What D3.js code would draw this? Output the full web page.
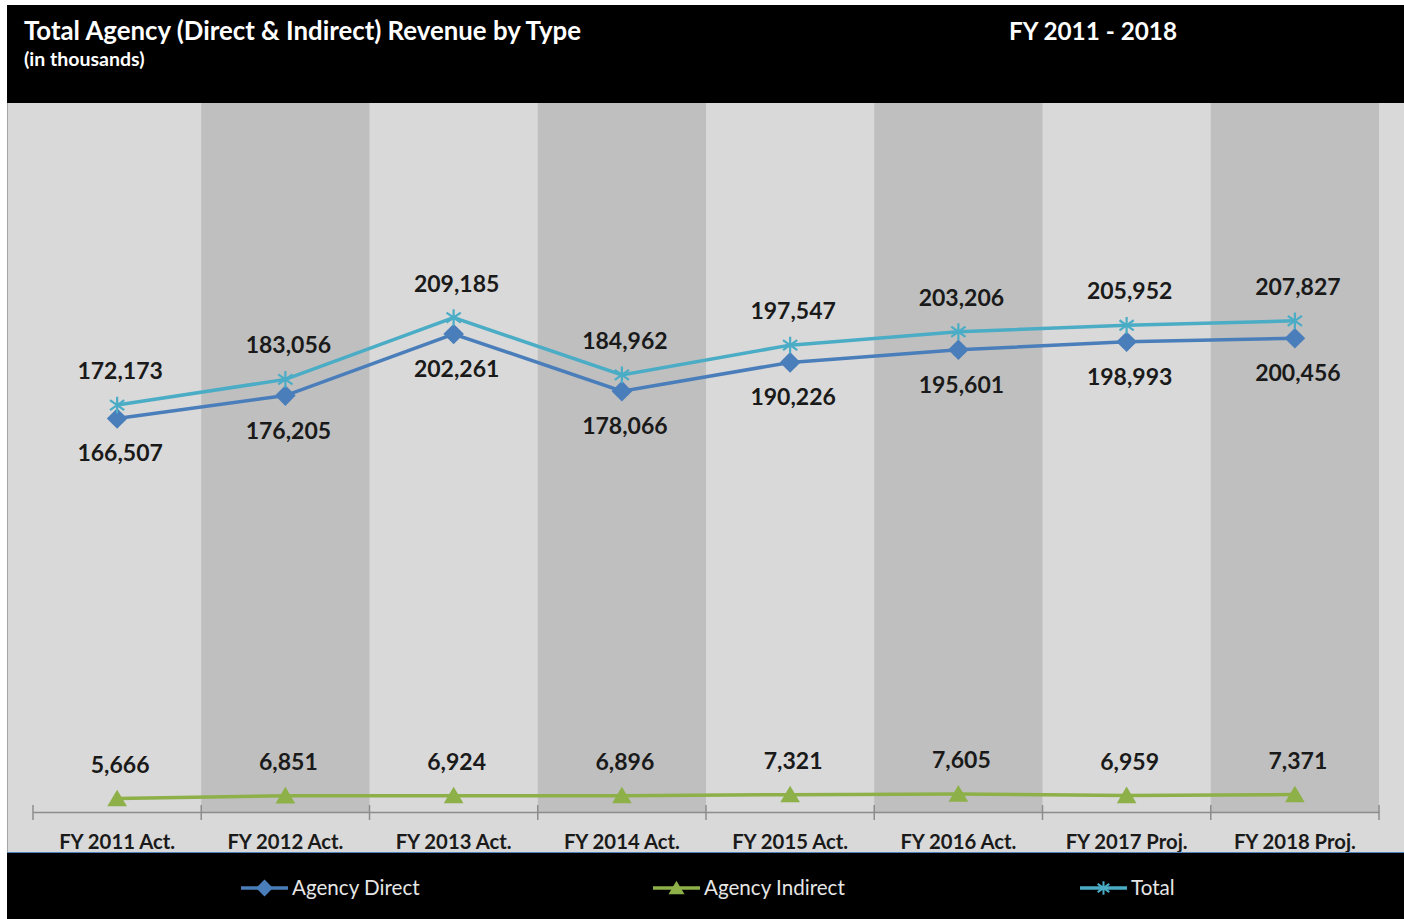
<!DOCTYPE html>
<html>
<head>
<meta charset="utf-8">
<script src="https://cdn.jsdelivr.net/npm/d3@7"></script>
<style>
  body { margin: 0; background: #ffffff; }
  svg { display: block; font-family: Lato, "Open Sans", sans-serif; }
</style>
</head>
<body>
<div id="chart"></div>
<script>
var categories = ["FY 2011 Act.", "FY 2012 Act.", "FY 2013 Act.", "FY 2014 Act.",
                  "FY 2015 Act.", "FY 2016 Act.", "FY 2017 Proj.", "FY 2018 Proj."];
var agencyDirect = [166507, 176205, 202261, 178066, 190226, 195601, 198993, 200456];
var agencyIndirect = [5666, 6851, 6924, 6896, 7321, 7605, 6959, 7371];
var total = [172173, 183056, 209185, 184962, 197547, 203206, 205952, 207827];
var seriesNames = ["Agency Direct", "Agency Indirect", "Total"];
var yDomain = [0, 300000];

var W = 1404, H = 919;
var plot = { left: 33, right: 1379, top: 103, bottom: 812 };

var svg = d3.select("#chart").append("svg")
    .attr("width", W).attr("height", H);

// custom marker shapes
var diamond = { draw: function(ctx, size) {
    var r = Math.sqrt(size) / 1.3;
    ctx.moveTo(0, -r); ctx.lineTo(r, 0); ctx.lineTo(0, r); ctx.lineTo(-r, 0); ctx.closePath();
}};
var triangle = { draw: function(ctx, size) {
    var r = Math.sqrt(size) / 1.5;
    ctx.moveTo(0, -r); ctx.lineTo(r * 1.1, r * 0.85); ctx.lineTo(-r * 1.1, r * 0.85); ctx.closePath();
}};
var asterisk = { draw: function(ctx, size) {
    var r = Math.sqrt(size) / 1.6;
    ctx.moveTo(0, -r); ctx.lineTo(0, r);
    ctx.moveTo(-r * 0.85, -r * 0.6); ctx.lineTo(r * 0.85, r * 0.6);
    ctx.moveTo(-r * 0.85, r * 0.6); ctx.lineTo(r * 0.85, -r * 0.6);
}};

var series = [
    { name: seriesNames[0], values: agencyDirect, color: "#4a7ebb", shape: diamond, fill: true, dy: 43 },
    { name: seriesNames[1], values: agencyIndirect, color: "#8db048", shape: triangle, fill: true, dy: -26 },
    { name: seriesNames[2], values: total, color: "#4bacc6", shape: asterisk, fill: false, dy: -26 }
];

var x = d3.scaleBand().domain(categories).range([plot.left, plot.right]);
var y = d3.scaleLinear().domain(yDomain).range([plot.bottom, plot.top]);

// header
svg.append("rect").attr("x", 7).attr("y", 5).attr("width", W - 7).attr("height", 98).attr("fill", "#000");
svg.append("text").attr("x", 24).attr("y", 40).attr("fill", "#fff")
    .attr("font-size", 25.8).attr("font-weight", "bold")
    .text("Total Agency (Direct & Indirect) Revenue by Type");
svg.append("text").attr("x", 24).attr("y", 66).attr("fill", "#fff")
    .attr("font-size", 19.5).attr("font-weight", "bold")
    .text("(in thousands)");
svg.append("text").attr("x", 1093).attr("y", 40).attr("fill", "#fff")
    .attr("font-size", 24.3).attr("font-weight", "bold").attr("text-anchor", "middle")
    .text("FY 2011 - 2018");

// plot background and alternating bands
svg.append("rect").attr("x", 7).attr("y", plot.top).attr("width", W - 7).attr("height", 852 - plot.top)
    .attr("fill", "#d9d9d9");
svg.append("line").attr("x1", 7.5).attr("x2", 7.5).attr("y1", plot.top).attr("y2", 852)
    .attr("stroke", "#a6a6a6");
svg.append("g").selectAll("rect")
    .data(categories.filter(function(d, i) { return i % 2 === 1; }))
    .enter().append("rect")
    .attr("x", function(d) { return x(d); })
    .attr("y", plot.top)
    .attr("width", x.bandwidth())
    .attr("height", plot.bottom - plot.top)
    .attr("fill", "#bfbfbf");

// x axis
var xAxis = svg.append("g").attr("transform", "translate(0," + plot.bottom + ")")
    .call(d3.axisBottom(x).tickSize(0).tickPadding(23));
xAxis.select(".domain").attr("stroke", "#8c8c8c").attr("stroke-width", 1.5);
xAxis.selectAll("text").attr("font-size", 20.3).attr("font-weight", "bold")
    .attr("fill", "#1a1a1a").attr("font-family", "Lato, sans-serif");
var bounds = categories.map(function(d) { return x(d); }).concat([plot.right]);
xAxis.selectAll(".bound").data(bounds).enter().append("line")
    .attr("x1", function(d) { return d; }).attr("x2", function(d) { return d; })
    .attr("y1", -7).attr("y2", 8)
    .attr("stroke", "#8c8c8c").attr("stroke-width", 1.5);

// lines, markers and labels
var line = d3.line()
    .x(function(d, i) { return x(categories[i]) + x.bandwidth() / 2; })
    .y(function(d) { return y(d); });

series.forEach(function(s) {
    var g = svg.append("g");
    g.append("path").datum(s.values)
        .attr("d", line).attr("fill", "none")
        .attr("stroke", s.color).attr("stroke-width", 3.5);
    g.selectAll(".mk").data(s.values).enter().append("path")
        .attr("transform", function(d, i) {
            return "translate(" + (x(categories[i]) + x.bandwidth() / 2) + "," + y(d) + ")";
        })
        .attr("d", d3.symbol().type(s.shape).size(180))
        .attr("fill", s.fill ? s.color : "none")
        .attr("stroke", s.color).attr("stroke-width", s.fill ? 0 : 2.2);
    g.selectAll(".lb").data(s.values).enter().append("text")
        .attr("x", function(d, i) { return x(categories[i]) + x.bandwidth() / 2 + 3; })
        .attr("y", function(d) { return y(d) + s.dy; })
        .attr("text-anchor", "middle")
        .attr("font-size", 23).attr("font-weight", "bold").attr("fill", "#1a1a1a")
        .text(function(d) { return d3.format(",")(d); });
});

// legend box
svg.append("rect").attr("x", 7).attr("y", 852).attr("width", W - 7).attr("height", H - 852).attr("fill", "#000");
svg.append("line").attr("x1", 7).attr("x2", W).attr("y1", 852.5).attr("y2", 852.5)
    .attr("stroke", "#4f81bd").attr("stroke-width", 1);
var legendX = [241, 653, 1080];
series.forEach(function(s, i) {
    var lg = svg.append("g").attr("transform", "translate(" + legendX[i] + ",888)");
    lg.append("line").attr("x1", 0).attr("x2", 47).attr("stroke", s.color).attr("stroke-width", 3.5);
    lg.append("path").attr("transform", "translate(23.5,0)")
        .attr("d", d3.symbol().type(s.shape).size(120))
        .attr("fill", s.fill ? s.color : "none")
        .attr("stroke", s.color).attr("stroke-width", s.fill ? 0 : 2);
    lg.append("text").attr("x", 51).attr("y", 7).attr("fill", "#e6e6e6")
        .attr("font-size", 20.6).text(s.name);
});
</script>
</body>
</html>
